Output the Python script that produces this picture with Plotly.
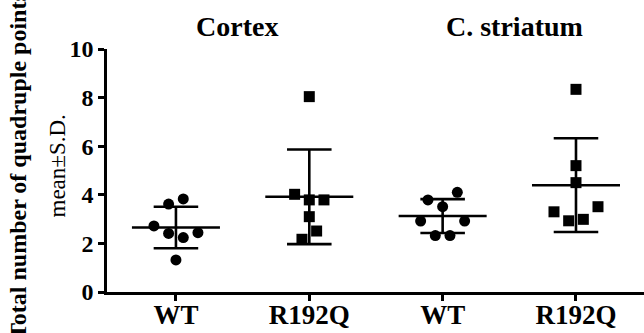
import numpy as np
import plotly.graph_objects as go

# ---- data ----
categories = ["WT", "R192Q", "WT", "R192Q"]
regions = ["Cortex", "C. striatum"]
cortex_wt = [3.62, 3.83, 2.72, 2.41, 2.24, 2.44, 1.32]
cortex_r192q = [8.04, 4.02, 3.79, 3.79, 3.10, 2.51, 2.17]
striatum_wt = [3.79, 4.10, 3.51, 2.92, 2.92, 2.32, 2.32]
striatum_r192q = [8.34, 5.20, 4.50, 3.30, 3.51, 2.93, 2.99]
y_ticks = [0, 2, 4, 6, 8, 10]

# horizontal placement slots of the dots within each column (scatter-dot layout)
slots_cortex_wt = [-1, 1, -3, -1, 1, 3, 0]
slots_cortex_r192q = [0, -2, 0, 2, 0, 1, -1]
slots_striatum_wt = [-2, 2, 0, -3, 3, -1, 1]
slots_striatum_r192q = [0, 0, 0, -3, 3, -1, 1]

groups = [
    (cortex_wt, slots_cortex_wt, "circle"),
    (cortex_r192q, slots_cortex_r192q, "square"),
    (striatum_wt, slots_striatum_wt, "circle"),
    (striatum_r192q, slots_striatum_r192q, "square"),
]

W, H = 644, 333
ML, MR, MT, MB = 107, 0, 49, 41
SLOT = 0.055
MEAN_HW = 0.33
CAP_HW = 0.167
FONT = "Liberation Serif"

fig = go.Figure()
for i, (vals, slots, sym) in enumerate(groups):
    v = np.array(vals)
    m = v.mean()
    sd = v.std(ddof=1)
    xs = [i + s * SLOT for s in slots]
    fig.add_trace(go.Scatter(x=xs, y=vals, mode="markers",
                             marker=dict(symbol=sym, size=11, color="black"),
                             showlegend=False, cliponaxis=False))
    lx = [i - MEAN_HW, i + MEAN_HW, None,
          i, i, None,
          i - CAP_HW, i + CAP_HW, None,
          i - CAP_HW, i + CAP_HW]
    ly = [m, m, None,
          m - sd, m + sd, None,
          m + sd, m + sd, None,
          m - sd, m - sd]
    fig.add_trace(go.Scatter(x=lx, y=ly, mode="lines",
                             line=dict(color="black", width=2.6),
                             showlegend=False, cliponaxis=False))

pw = W - ML - MR
ph = H - MT - MB


def px_x(p):
    return (p - ML) / pw


def px_y(p):
    return (H - MB - p) / ph


annotations = [
    dict(text="<b>Cortex</b>", x=px_x(236.7), y=px_y(26), xref="paper", yref="paper",
         showarrow=False, xanchor="center", yanchor="middle",
         font=dict(family=FONT, size=28, color="black")),
    dict(text="<b>C. striatum</b>", x=px_x(514.5), y=px_y(26), xref="paper", yref="paper",
         showarrow=False, xanchor="center", yanchor="middle",
         font=dict(family=FONT, size=28, color="black")),
    dict(text="<b>Total number of quadruple points</b>", x=px_x(17.5), y=px_y(165.5),
         xref="paper", yref="paper", textangle=-90, showarrow=False,
         xanchor="center", yanchor="middle",
         font=dict(family=FONT, size=24, color="black")),
    dict(text="mean±S.D.", x=px_x(57), y=px_y(166.5),
         xref="paper", yref="paper", textangle=-90, showarrow=False,
         xanchor="center", yanchor="middle",
         font=dict(family=FONT, size=23, color="black")),
]

fig.update_layout(
    template="none",
    width=W, height=H,
    margin=dict(l=ML, r=MR, t=MT, b=MB, pad=0, autoexpand=False),
    paper_bgcolor="white", plot_bgcolor="white",
    font=dict(family=FONT, color="black"),
    annotations=annotations,
    xaxis=dict(range=[-0.517, 3.51], tickmode="array", tickvals=[0, 1, 2, 3],
               ticktext=["<b>%s</b>" % c for c in categories],
               showgrid=False, zeroline=False, automargin=False,
               showline=True, linecolor="black", linewidth=2.5,
               ticks="outside", ticklen=6, tickwidth=2.5, tickcolor="black",
               ticklabelstandoff=-9,
               tickfont=dict(family=FONT, size=27, color="black")),
    yaxis=dict(range=[0, 10], tickmode="array", tickvals=y_ticks,
               ticktext=["<b>%d</b>" % t for t in y_ticks],
               showgrid=False, zeroline=False, automargin=False,
               showline=True, linecolor="black", linewidth=2.5,
               ticks="outside", ticklen=6, tickwidth=2.5, tickcolor="black",
               tickfont=dict(family=FONT, size=24, color="black")),
)

fig.write_html("out.html",
               config={"displayModeBar": False},
               post_script="document.body.style.margin='0';document.body.style.overflow='hidden';")
